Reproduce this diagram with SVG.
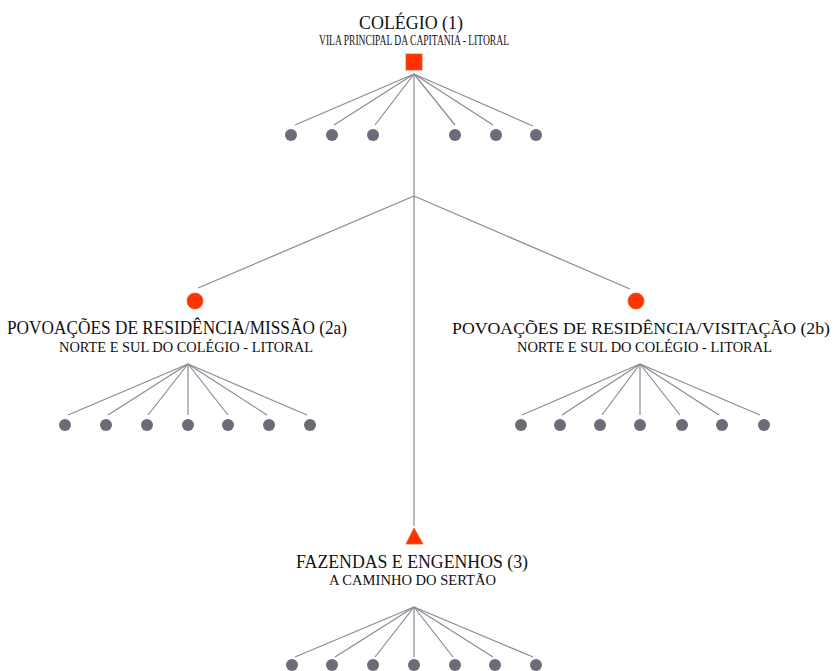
<svg xmlns="http://www.w3.org/2000/svg" width="836" height="671" viewBox="0 0 836 671">
<style>
.t{font-family:"Liberation Serif","Times New Roman",serif;fill:#111;}
.h{font-size:19px;}
.s{font-size:14px;}
.ln{stroke:#8a8a96;stroke-width:1.2;fill:none;}
.dot{fill:#6c6c78;}
.red{fill:#ff3300;stroke:#e05a20;stroke-width:0.8;}
</style>
<rect width="836" height="671" fill="#fff"/>
<g id="connectors" class="ln">
<line x1="414" y1="74" x2="414" y2="526"/>
<line x1="414" y1="196" x2="198" y2="288"/>
<line x1="414" y1="196" x2="630" y2="289"/>
<line x1="414" y1="74" x2="295" y2="125"/>
<line x1="414" y1="74" x2="334" y2="125"/>
<line x1="414" y1="74" x2="375" y2="125"/>
<line x1="414" y1="74" x2="455" y2="125"/>
<line x1="414" y1="74" x2="493" y2="125"/>
<line x1="414" y1="74" x2="533" y2="126"/>
<line x1="188" y1="364" x2="68" y2="415"/>
<line x1="188" y1="364" x2="108" y2="415"/>
<line x1="188" y1="364" x2="148" y2="415"/>
<line x1="188" y1="364" x2="188" y2="415"/>
<line x1="188" y1="364" x2="228" y2="415"/>
<line x1="188" y1="364" x2="267" y2="415"/>
<line x1="188" y1="364" x2="307" y2="415"/>
<line x1="640" y1="364" x2="522" y2="415"/>
<line x1="640" y1="364" x2="562" y2="415"/>
<line x1="640" y1="364" x2="602" y2="415"/>
<line x1="640" y1="364" x2="640" y2="415"/>
<line x1="640" y1="364" x2="680" y2="415"/>
<line x1="640" y1="364" x2="719" y2="415"/>
<line x1="640" y1="364" x2="760" y2="415"/>
<line x1="414" y1="607" x2="295" y2="657"/>
<line x1="414" y1="607" x2="335" y2="657"/>
<line x1="414" y1="607" x2="375" y2="657"/>
<line x1="414" y1="607" x2="414" y2="657"/>
<line x1="414" y1="607" x2="453" y2="657"/>
<line x1="414" y1="607" x2="493" y2="657"/>
<line x1="414" y1="607" x2="533" y2="657"/>
</g>
<g id="colegio">
<text class="t h" x="359" y="29" textLength="104" lengthAdjust="spacingAndGlyphs">COLÉGIO (1)</text>
<text class="t s" x="319" y="45" textLength="190" lengthAdjust="spacingAndGlyphs">VILA PRINCIPAL DA CAPITANIA - LITORAL</text>
<rect class="red" x="406" y="54" width="16" height="16"/>
</g>
<g id="colegio-children" class="dot">
<circle cx="291" cy="135" r="6"/><circle cx="332" cy="135" r="6"/><circle cx="373" cy="135" r="6"/>
<circle cx="455" cy="135" r="6"/><circle cx="496" cy="135" r="6"/><circle cx="536" cy="135" r="6"/>
</g>
<g id="missao">
<circle class="red" cx="195" cy="301" r="8"/>
<text class="t h" x="7" y="334" textLength="340" lengthAdjust="spacingAndGlyphs">POVOAÇÕES DE RESIDÊNCIA/MISSÃO (2a)</text>
<text class="t s" x="59" y="352" textLength="254" lengthAdjust="spacingAndGlyphs">NORTE E SUL DO COLÉGIO - LITORAL</text>
</g>
<g id="missao-children" class="dot">
<circle cx="65" cy="425" r="6"/><circle cx="106" cy="425" r="6"/><circle cx="147" cy="425" r="6"/><circle cx="188" cy="425" r="6"/>
<circle cx="228" cy="425" r="6"/><circle cx="269" cy="425" r="6"/><circle cx="310" cy="425" r="6"/>
</g>
<g id="visitacao">
<circle class="red" cx="636" cy="301" r="8"/>
<text class="t" font-size="17.5" x="452" y="334" textLength="378" lengthAdjust="spacingAndGlyphs">POVOAÇÕES DE RESIDÊNCIA/VISITAÇÃO (2b)</text>
<text class="t s" x="517" y="352" textLength="255" lengthAdjust="spacingAndGlyphs">NORTE E SUL DO COLÉGIO - LITORAL</text>
</g>
<g id="visitacao-children" class="dot">
<circle cx="521" cy="425" r="6"/><circle cx="560" cy="425" r="6"/><circle cx="600" cy="425" r="6"/><circle cx="640" cy="425" r="6"/>
<circle cx="682" cy="425" r="6"/><circle cx="722" cy="425" r="6"/><circle cx="764" cy="425" r="6"/>
</g>
<g id="fazendas">
<polygon class="red" points="414,528 406,544 423,544"/>
<text class="t h" x="296" y="568" textLength="232" lengthAdjust="spacingAndGlyphs">FAZENDAS E ENGENHOS (3)</text>
<text class="t s" x="329" y="585" textLength="167" lengthAdjust="spacingAndGlyphs">A CAMINHO DO SERTÃO</text>
</g>
<g id="fazendas-children" class="dot">
<circle cx="292" cy="665" r="6"/><circle cx="332" cy="665" r="6"/><circle cx="373" cy="665" r="6"/><circle cx="414" cy="665" r="6"/>
<circle cx="455" cy="665" r="6"/><circle cx="495" cy="665" r="6"/><circle cx="536" cy="665" r="6"/>
</g>
</svg>
